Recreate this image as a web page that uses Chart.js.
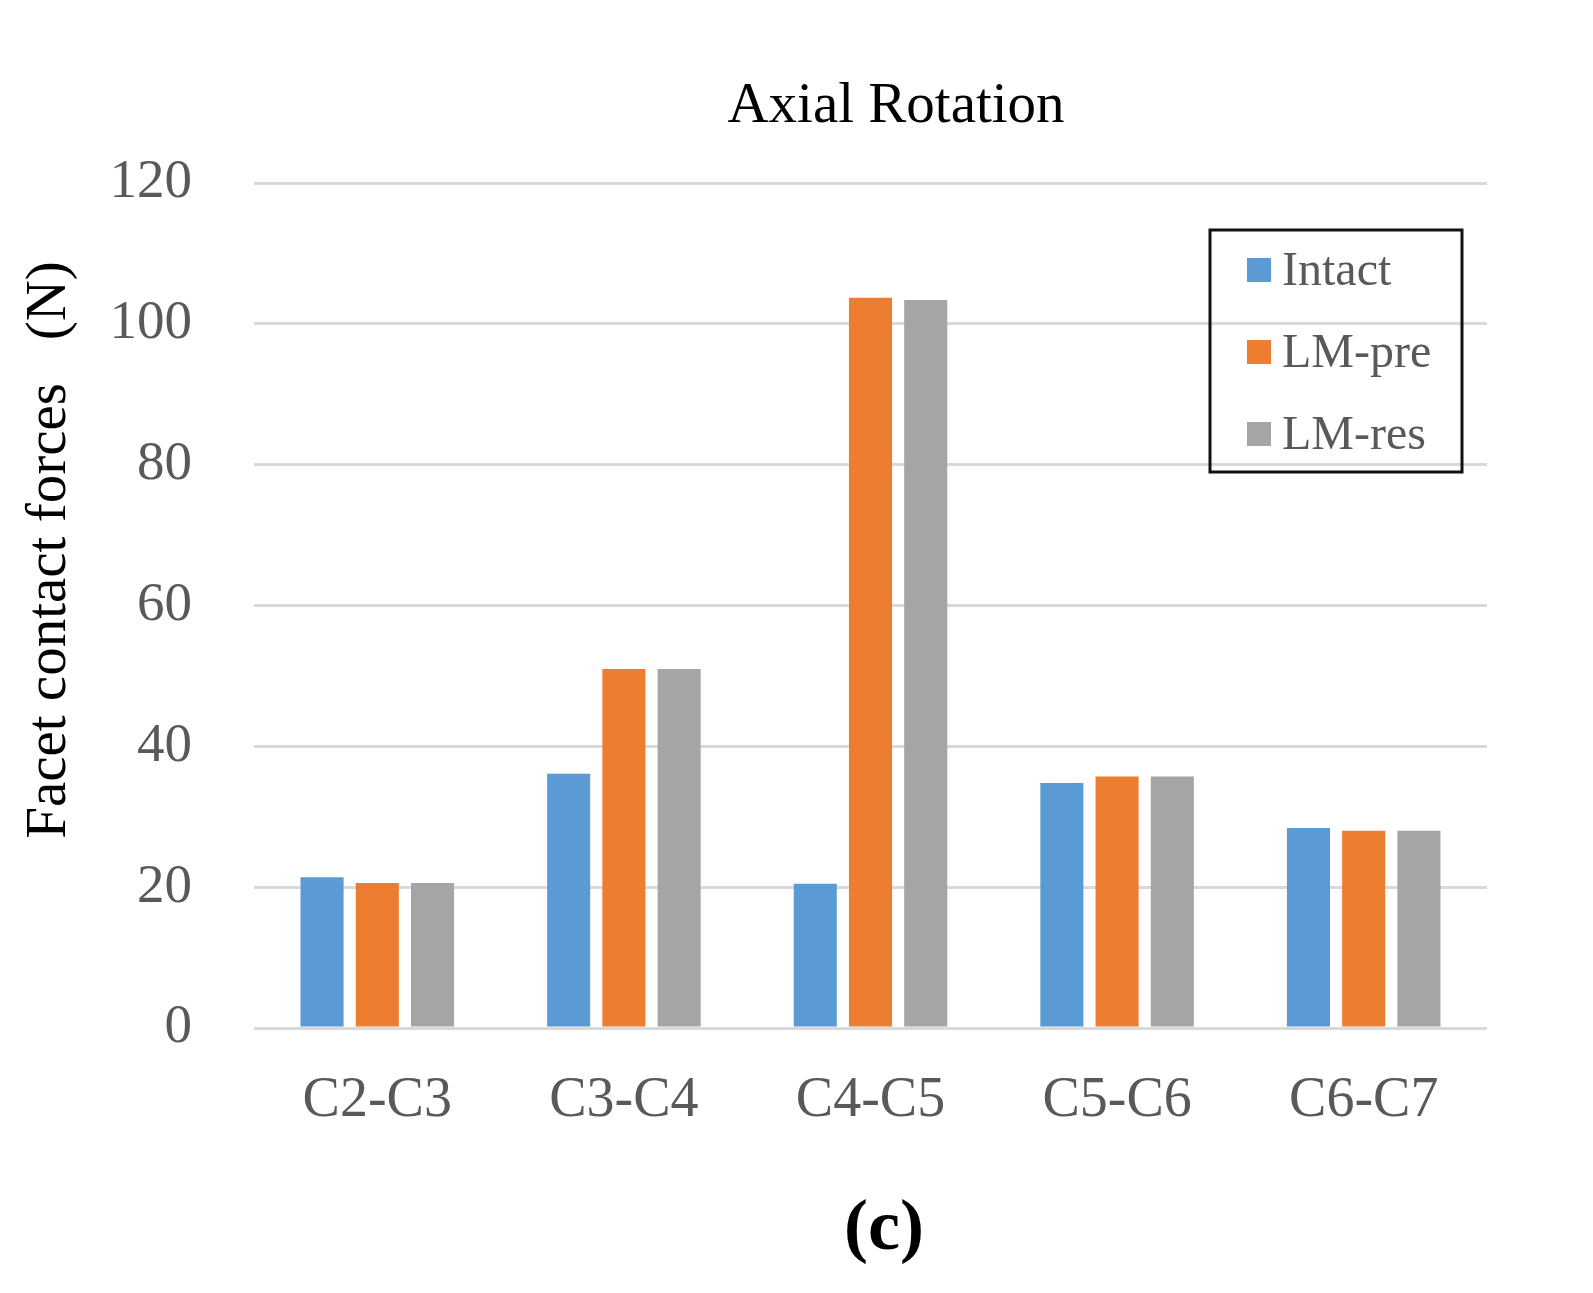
<!DOCTYPE html>
<html>
<head>
<meta charset="utf-8">
<script src="https://cdn.jsdelivr.net/npm/chart.js@4/dist/chart.umd.min.js"></script>
<style>
  html, body { margin: 0; padding: 0; background: #fff; }
  canvas { display: block; }
</style>
</head>
<body>
<canvas id="axialChart" width="1593" height="1293"></canvas>
<script>
// data
const levels = ['C2-C3', 'C3-C4', 'C4-C5', 'C5-C6', 'C6-C7'];
const intact = [21.4, 36.1, 20.5, 34.8, 28.4];
const lmPre = [20.6, 51.0, 103.7, 35.7, 28.0];
const lmRes = [20.6, 51.0, 103.4, 35.7, 28.0];
const yTicks = [0, 20, 40, 60, 80, 100, 120];

const serif = '"Liberation Serif", "Times New Roman", serif';

// titles, axis title and boxed legend drawn on top
const decorations = {
    id: 'decorations',
    afterDraw(chart) {
        const ctx = chart.ctx;
        ctx.save();
        ctx.textAlign = 'center';
        ctx.textBaseline = 'middle';

        ctx.fillStyle = '#000';
        ctx.font = '57px ' + serif;
        ctx.fillText('Axial Rotation', 896, 107);

        ctx.font = 'bold 72px ' + serif;
        ctx.fillText('(c)', 884, 1230);

        // y axis title
        ctx.save();
        ctx.translate(50, 550);
        ctx.rotate(-Math.PI / 2);
        ctx.font = '57px ' + serif;
        ctx.fillText('Facet contact forces\u00a0\u00a0\u00a0(N)', 0, 0);
        ctx.restore();

        // legend box
        ctx.strokeStyle = '#111';
        ctx.lineWidth = 3;
        ctx.strokeRect(1210, 230, 252, 242);
        const rows = [270, 352, 434];
        ctx.textAlign = 'left';
        ctx.font = '48px ' + serif;
        chart.data.datasets.forEach((ds, i) => {
            ctx.fillStyle = ds.backgroundColor;
            ctx.fillRect(1247, rows[i] - 12, 24, 24);
            ctx.fillStyle = '#595959';
            ctx.fillText(ds.label, 1282, rows[i] + 2);
        });
        ctx.restore();
    }
};

const ctx = document.getElementById('axialChart').getContext('2d');
const chart = new Chart(ctx, {
    type: 'bar',
    data: {
        labels: levels,
        datasets: [
            { label: 'Intact', data: intact, backgroundColor: '#5B9BD5' },
            { label: 'LM-pre', data: lmPre, backgroundColor: '#ED7D31' },
            { label: 'LM-res', data: lmRes, backgroundColor: '#A5A5A5' }
        ]
    },
    options: {
        responsive: false,
        devicePixelRatio: 1,
        animation: false,
        layout: { padding: { top: 183, right: 106, bottom: 0, left: 0 } },
        datasets: {
            bar: { categoryPercentage: 0.672, barPercentage: 0.78 }
        },
        plugins: {
            legend: { display: false },
            title: { display: false },
            tooltip: { enabled: false }
        },
        scales: {
            x: {
                grid: { display: false },
                border: { display: false },
                ticks: {
                    color: '#595959',
                    font: { family: serif, size: 56 },
                    padding: 32,
                    maxRotation: 0
                },
                afterFit(scale) { scale.height = 265; }
            },
            y: {
                min: 0,
                max: 120,
                afterBuildTicks(scale) {
                    scale.ticks = yTicks.map(v => ({ value: v }));
                },
                grid: { color: '#d9d9d9', lineWidth: 3, drawTicks: false },
                border: { display: false },
                ticks: {
                    color: '#595959',
                    font: { family: serif, size: 55 },
                    padding: 62
                },
                afterFit(scale) { scale.width = 254; }
            }
        }
    },
    plugins: [decorations]
});
</script>
</body>
</html>
